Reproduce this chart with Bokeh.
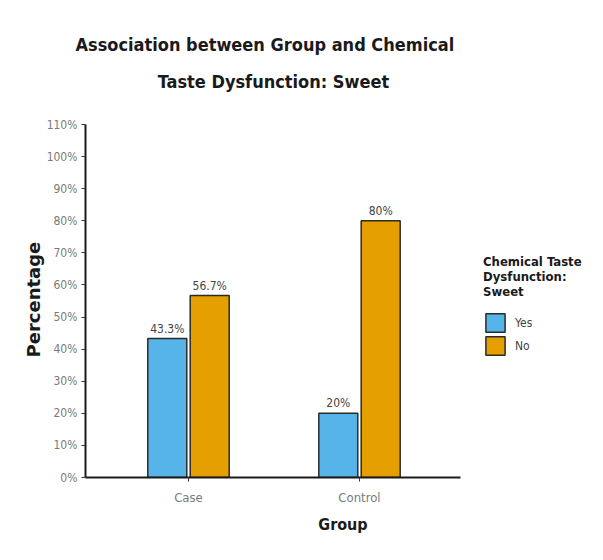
from bokeh.plotting import figure
from bokeh.models import (ColumnDataSource, Range1d, Legend, LegendItem, PrintfTickFormatter,
                          FixedTicker, Title, Label)
from bokeh.transform import dodge
from bokeh.core.properties import value
from bokeh.embed import file_html
from bokeh.resources import INLINE

groups = ["Case", "Control"]
yes_pct = [43.3, 20.0]
no_pct = [56.7, 80.0]
yes_labels = ["43.3%", "20%"]
no_labels = ["56.7%", "80%"]
y_ticks = [0, 10, 20, 30, 40, 50, 60, 70, 80, 90, 100, 110]
title_lines = ["Association between Group and Chemical", "Taste Dysfunction: Sweet"]
legend_title = "Chemical Taste\nDysfunction:\nSweet"
series_names = ["Yes", "No"]
y_label = "Percentage"
x_label = "Group"

FONT = "DejaVu Sans Condensed, sans-serif"
BLUE = "#56B4E9"
ORANGE = "#E69F00"
DARK = "#1a1a1a"

idx = list(range(len(groups)))
src = ColumnDataSource(dict(idx=idx, yes=yes_pct, no=no_pct,
                            yes_lab=yes_labels, no_lab=no_labels))

# frame extends right (legend) and up (second title line); axes are bounded
p = figure(width=603, height=560, output_backend="svg", toolbar_location=None,
           x_range=Range1d(-0.6023, 2.4094), y_range=Range1d(0, 126.83),
           title=title_lines[0],
           min_border_left=85, min_border_bottom=83, min_border_top=70, min_border_right=3)

p.title.align = "left"
p.title.offset = -10
p.title.standoff = 31
p.title.text_font = FONT
p.title.text_font_size = "18px"
p.title.text_font_style = "bold"
p.title.text_color = DARK

p.add_layout(Label(x=188, y=396, x_units="screen", y_units="screen", text=title_lines[1],
                   text_align="center", text_baseline="middle", text_font=FONT,
                   text_font_size="18px", text_font_style="bold", text_color=DARK))

OFF = 0.124
W = 0.228
r_yes = p.vbar(x=dodge("idx", -OFF), top="yes", width=W, source=src,
               fill_color=BLUE, line_color="#2b2b2b", line_width=1.5)
r_no = p.vbar(x=dodge("idx", OFF), top="no", width=W, source=src,
              fill_color=ORANGE, line_color="#2b2b2b", line_width=1.5)

p.text(x=dodge("idx", -OFF), y="yes", text="yes_lab", source=src,
       text_align="center", text_baseline="bottom", y_offset=-3,
       text_font=value(FONT), text_font_size="12px", text_color="#444444")
p.text(x=dodge("idx", OFF), y="no", text="no_lab", source=src,
       text_align="center", text_baseline="bottom", y_offset=-3,
       text_font=value(FONT), text_font_size="12px", text_color="#444444")

p.xgrid.visible = False
p.ygrid.visible = False
p.outline_line_color = None

p.yaxis.ticker = FixedTicker(ticks=y_ticks)
p.yaxis.formatter = PrintfTickFormatter(format="%d%%")
p.yaxis.bounds = (0, 110)
p.xaxis.ticker = FixedTicker(ticks=idx)
p.xaxis.major_label_overrides = {i: g for i, g in zip(idx, groups)}
p.xaxis.bounds = (-0.6023, 1.5906)

for ax in (p.xaxis[0], p.yaxis[0]):
    ax.axis_line_color = DARK
    ax.axis_line_width = 2
    ax.major_tick_line_color = "#333333"
    ax.major_tick_line_width = 1
    ax.major_tick_out = 4
    ax.major_tick_in = 0
    ax.minor_tick_line_color = None
    ax.major_label_text_font = FONT
    ax.major_label_text_color = "#7a7a7a"
    ax.axis_label_text_font_style = "bold"
    ax.axis_label_text_color = DARK

p.yaxis.major_label_text_font_size = "12px"
p.xaxis.major_label_text_font_size = "13px"
p.xaxis.axis_label = x_label
p.xaxis.axis_label_text_font = FONT
p.xaxis.axis_label_text_font_size = "16px"
p.xaxis.axis_label_standoff = 7
p.xaxis.major_label_standoff = 8
p.yaxis.major_label_standoff = 4

# y-axis title as a side title so it can be centred on the 0-110% span
p.add_layout(Title(text=y_label, align="left", offset=120, standoff=0,
                   text_font="DejaVu Sans", text_font_size="18px", text_font_style="bold",
                   text_color=DARK), "left")

legend = Legend(items=[LegendItem(label=series_names[0], renderers=[r_yes]),
                       LegendItem(label=series_names[1], renderers=[r_no])],
                title=legend_title, location=(398, 120))
legend.title_text_font = FONT
legend.title_text_font_style = "bold"
legend.title_text_font_size = "13px"
legend.title_text_color = DARK
legend.title_standoff = 12
legend.label_text_font = FONT
legend.label_text_font_size = "12px"
legend.label_text_color = "#444444"
legend.label_standoff = 8
legend.glyph_width = 24
legend.glyph_height = 23
legend.label_height = 23
legend.spacing = 0
legend.border_line_color = None
legend.background_fill_alpha = 0
legend.margin = 0
legend.padding = 0
p.add_layout(legend, "center")

open("out.html", "w").write(file_html(p, INLINE))
